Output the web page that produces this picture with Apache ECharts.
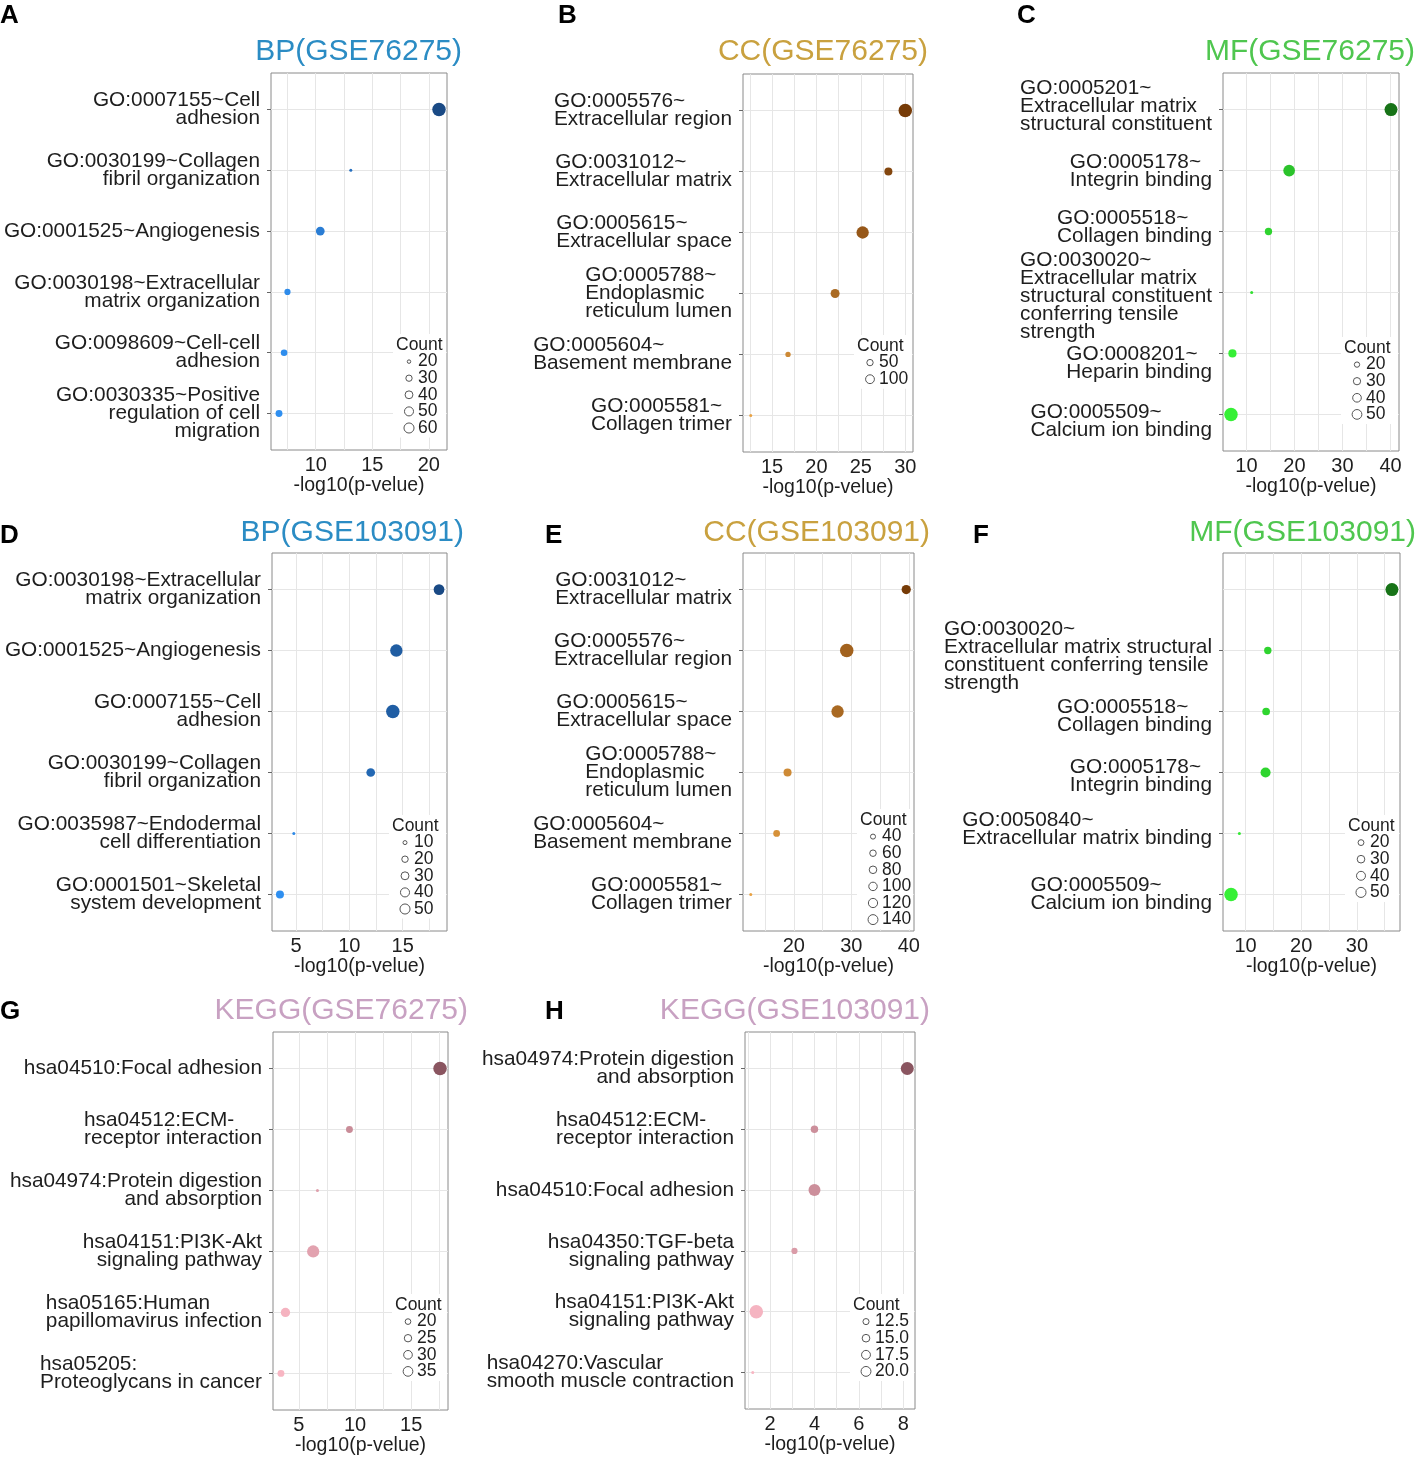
<!DOCTYPE html>
<html>
<head>
<meta charset="utf-8">
<script src="https://cdn.jsdelivr.net/npm/echarts@6.0.0/dist/echarts.min.js"></script>
<style>
html, body { margin: 0; padding: 0; background: #fff; }
#chart { width: 1418px; height: 1459px; }
</style>
</head>
<body>
<div id="chart"></div>
<script>
// ---- data ----
var bp76Terms = ['GO:0007155~Cell\nadhesion', 'GO:0030199~Collagen\nfibril organization', 'GO:0001525~Angiogenesis',
    'GO:0030198~Extracellular\nmatrix organization', 'GO:0098609~Cell-cell\nadhesion', 'GO:0030335~Positive\nregulation of cell\nmigration'];
var bp76LogP = [20.9, 13.1, 10.4, 7.5, 7.2, 6.75];
var bp76Count = [62, 19, 32, 23, 24, 25];
var bp76Breaks = [20, 30, 40, 50, 60];
var bp76Ticks = [10, 15, 20];

var cc76Terms = ['GO:0005576~\nExtracellular region', 'GO:0031012~\nExtracellular matrix', 'GO:0005615~\nExtracellular space',
    'GO:0005788~\nEndoplasmic\nreticulum lumen', 'GO:0005604~\nBasement membrane', 'GO:0005581~\nCollagen trimer'];
var cc76LogP = [30.0, 28.1, 25.2, 22.1, 16.8, 12.6];
var cc76Count = [140, 46, 114, 58, 24, 18];
var cc76Breaks = [50, 100];
var cc76Ticks = [15, 20, 25, 30];

var mf76Terms = ['GO:0005201~\nExtracellular matrix\nstructural constituent', 'GO:0005178~\nIntegrin binding', 'GO:0005518~\nCollagen binding',
    'GO:0030020~\nExtracellular matrix\nstructural constituent\nconferring tensile\nstrength', 'GO:0008201~\nHeparin binding', 'GO:0005509~\nCalcium ion binding'];
var mf76LogP = [40.1, 18.9, 14.6, 11.1, 7.1, 6.8];
var mf76Count = [51, 42, 21, 14, 24, 55];
var mf76Breaks = [20, 30, 40, 50];
var mf76Ticks = [10, 20, 30, 40];

var bp103Terms = ['GO:0030198~Extracellular\nmatrix organization', 'GO:0001525~Angiogenesis', 'GO:0007155~Cell\nadhesion',
    'GO:0030199~Collagen\nfibril organization', 'GO:0035987~Endodermal\ncell differentiation', 'GO:0001501~Skeletal\nsystem development'];
var bp103LogP = [18.4, 14.4, 14.07, 12.0, 4.8, 3.5];
var bp103Count = [32, 43, 52, 21, 8, 18];
var bp103Breaks = [10, 20, 30, 40, 50];
var bp103Ticks = [5, 10, 15];

var cc103Terms = ['GO:0031012~\nExtracellular matrix', 'GO:0005576~\nExtracellular region', 'GO:0005615~\nExtracellular space',
    'GO:0005788~\nEndoplasmic\nreticulum lumen', 'GO:0005604~\nBasement membrane', 'GO:0005581~\nCollagen trimer'];
var cc103LogP = [39.55, 29.2, 27.6, 18.9, 17.0, 12.5];
var cc103Count = [70, 150, 124, 54, 41, 25];
var cc103Breaks = [40, 60, 80, 100, 120, 140];
var cc103Ticks = [20, 30, 40];

var mf103Terms = ['GO:0005201~\nExtracellular matrix\nstructural constituent', 'GO:0030020~\nExtracellular matrix structural\nconstituent conferring tensile\nstrength',
    'GO:0005518~\nCollagen binding', 'GO:0005178~\nIntegrin binding', 'GO:0050840~\nExtracellular matrix binding', 'GO:0005509~\nCalcium ion binding'];
var mf103LogP = [36.3, 14.0, 13.7, 13.6, 8.9, 7.4];
var mf103Count = [48, 19, 20, 30, 12, 52];
var mf103Breaks = [20, 30, 40, 50];
var mf103Ticks = [10, 20, 30];

var kegg76Terms = ['hsa04510:Focal adhesion', 'hsa04512:ECM-\nreceptor interaction', 'hsa04974:Protein digestion\nand absorption',
    'hsa04151:PI3K-Akt\nsignaling pathway', 'hsa05165:Human\npapillomavirus infection', 'hsa05205:\nProteoglycans in cancer'];
var kegg76LogP = [17.57, 9.5, 6.65, 6.27, 3.8, 3.4];
var kegg76Count = [38, 19, 16, 33, 24, 19];
var kegg76Breaks = [20, 25, 30, 35];
var kegg76Ticks = [5, 10, 15];

var kegg103Terms = ['hsa04974:Protein digestion\nand absorption', 'hsa04512:ECM-\nreceptor interaction', 'hsa04510:Focal adhesion',
    'hsa04350:TGF-beta\nsignaling pathway', 'hsa04151:PI3K-Akt\nsignaling pathway', 'hsa04270:Vascular\nsmooth muscle contraction'];
var kegg103LogP = [8.18, 4.0, 4.0, 3.1, 1.38, 1.22];
var kegg103Count = [20, 12, 18, 11, 21, 10];
var kegg103Breaks = [12.5, 15, 17.5, 20];
var kegg103Ticks = [2, 4, 6, 8];

// ---- layout / style per panel ----
var FONT = '"Liberation Sans", Arial, sans-serif';
var BLUE = ['#2f8ff0', '#1a4a85'], BROWN = ['#e9a243', '#763b07'], GREEN = ['#36f036', '#177317'], PINK = ['#f8b6c3', '#8a5560'];

// vertical nudges (px) of the y labels, as placed in the figure
var mf76Nudge = [-3, 1, -4, 4, 10, 7];
var mf103Nudge = [0, 6, 5, 4, -4, 0];

var panels = [
    { letter: 'A', lx: 0, ly: 16, title: 'BP(GSE76275)', tColor: '#2b8cc4', tRight: 462, tY: 51, grid: [271, 73, 176, 377],
      terms: bp76Terms, logp: bp76LogP, count: bp76Count, breaks: bp76Breaks, ticks: bp76Ticks, pal: BLUE, legTop: 272, legOff: 38 },
    { letter: 'B', lx: 558, ly: 16, title: 'CC(GSE76275)', tColor: '#c9a13f', tRight: 928, tY: 51, grid: [743, 74, 170, 378],
      terms: cc76Terms, logp: cc76LogP, count: cc76Count, breaks: cc76Breaks, ticks: cc76Ticks, pal: BROWN, legTop: 272, legOff: 43 },
    { letter: 'C', lx: 1017, ly: 16, title: 'MF(GSE76275)', tColor: '#4fc64f', tRight: 1415, tY: 51, grid: [1223, 73, 176, 378],
      terms: mf76Terms, logp: mf76LogP, count: mf76Count, breaks: mf76Breaks, ticks: mf76Ticks, pal: GREEN, legTop: 275, legOff: 42, nudge: mf76Nudge },
    { letter: 'D', lx: 0, ly: 536, title: 'BP(GSE103091)', tColor: '#2b8cc4', tRight: 464, tY: 532, grid: [272, 553, 175, 378],
      terms: bp103Terms, logp: bp103LogP, count: bp103Count, breaks: bp103Breaks, ticks: bp103Ticks, pal: BLUE, legTop: 273, legOff: 42 },
    { letter: 'E', lx: 545, ly: 536, title: 'CC(GSE103091)', tColor: '#c9a13f', tRight: 930, tY: 532, grid: [743, 553, 171, 378],
      terms: cc103Terms, logp: cc103LogP, count: cc103Count, breaks: cc103Breaks, ticks: cc103Ticks, pal: BROWN, legTop: 267, legOff: 41 },
    { letter: 'F', lx: 973, ly: 536, title: 'MF(GSE103091)', tColor: '#4fc64f', tRight: 1416, tY: 532, grid: [1223, 553, 177, 378],
      terms: mf103Terms, logp: mf103LogP, count: mf103Count, breaks: mf103Breaks, ticks: mf103Ticks, pal: GREEN, legTop: 273, legOff: 39, nudge: mf103Nudge },
    { letter: 'G', lx: 0, ly: 1012, title: 'KEGG(GSE76275)', tColor: '#c8a1c2', tRight: 468, tY: 1010, grid: [273, 1032, 175, 378],
      terms: kegg76Terms, logp: kegg76LogP, count: kegg76Count, breaks: kegg76Breaks, ticks: kegg76Ticks, pal: PINK, legTop: 273, legOff: 40 },
    { letter: 'H', lx: 545, ly: 1012, title: 'KEGG(GSE103091)', tColor: '#c8a1c2', tRight: 930, tY: 1010, grid: [745, 1032, 170, 377],
      terms: kegg103Terms, logp: kegg103LogP, count: kegg103Count, breaks: kegg103Breaks, ticks: kegg103Ticks, pal: PINK, legTop: 273, legOff: 49 }
];

var labelStyle = { fontSize: 20.8, lineHeight: 18, fontFamily: FONT, color: '#1e1e1e' };
var rich = {
    l: Object.assign({ align: 'left' }, labelStyle),
    r: Object.assign({ align: 'right' }, labelStyle)
};

// left-align lines inside a wrapped label when its first line is only the id;
// a nudge is done with an empty spacer line above (down) or below (up)
function fmtTerm(s, nudge) {
    var lines = s.split('\n');
    var left = lines.length > 1 && (/[~:]$/.test(lines[0]) || lines[0].length < lines[1].length);
    var tag = left ? 'l' : 'r';
    var out = lines.map(function (l) { return '{' + tag + '|' + l + '}'; }).join('\n');
    if (nudge) {
        var key = 'g' + Math.abs(nudge);
        rich[key] = { fontSize: 1, lineHeight: 2 * Math.abs(nudge) };
        out = nudge > 0 ? '{' + key + '| }\n' + out : out + '\n{' + key + '| }';
    }
    return out;
}

function sizeScale(counts) {
    var lo = Math.min.apply(null, counts), hi = Math.max.apply(null, counts);
    return function (c) {
        var t = Math.max(0, Math.min(1, (c - lo) / (hi - lo)));
        return 3 + 10.5 * Math.sqrt(t);
    };
}

var option = { animation: false, title: [], grid: [], xAxis: [], yAxis: [], series: [], visualMap: [], graphic: [] };

panels.forEach(function (p, i) {
    var g = p.grid;
    var size = sizeScale(p.count);
    var lo = Math.min.apply(null, p.logp), hi = Math.max.apply(null, p.logp);
    var pad = (hi - lo) * 0.05;
    var step = p.ticks[1] - p.ticks[0];
    var gridVals = p.ticks.map(function (t) { return t - step / 2; }).concat(p.ticks)
        .concat([p.ticks[p.ticks.length - 1] + step / 2]).sort(function (a, b) { return a - b; });
    var idx = p.terms.map(function (t, j) { return j; });
    var labels = p.terms.map(function (t, j) { return fmtTerm(t, p.nudge ? p.nudge[j] : 0); });

    option.title.push({ text: p.letter, left: p.lx, top: p.ly - 13, padding: 0,
        textStyle: { fontSize: 26, fontWeight: 'bold', color: '#000', fontFamily: FONT } });
    option.title.push({ text: p.title, right: 1418 - p.tRight, top: p.tY - 14, padding: 0,
        textStyle: { fontSize: 30, fontWeight: 'normal', color: p.tColor, fontFamily: FONT } });

    option.grid.push({ left: g[0], top: g[1], width: g[2], height: g[3], show: true,
        borderColor: '#8a8a8a', borderWidth: 1, backgroundColor: 'transparent' });

    option.xAxis.push({
        type: 'value', gridIndex: i, min: lo - pad, max: hi + pad,
        name: '-log10(p-velue)', nameLocation: 'middle', nameGap: 25,
        nameTextStyle: { fontSize: 19.5, color: '#1e1e1e', fontFamily: FONT },
        axisLine: { show: false },
        axisTick: { show: false, customValues: gridVals },
        axisLabel: { customValues: p.ticks, margin: 5, fontSize: 20, color: '#1e1e1e', fontFamily: FONT },
        splitLine: { show: true, lineStyle: { color: '#e6e6e6', width: 1 } }
    });
    option.yAxis.push({
        type: 'value', gridIndex: i, inverse: true, min: -0.6, max: p.terms.length - 0.4,
        axisLine: { show: false },
        axisTick: { show: true, length: 4, customValues: idx, lineStyle: { color: '#666' } },
        axisLabel: {
            customValues: idx, margin: 11, align: 'right', fontSize: 20.8, lineHeight: 18,
            fontFamily: FONT, color: '#1e1e1e', rich: rich,
            formatter: function (v) { return labels[Math.round(v)]; }
        },
        splitLine: { show: true, lineStyle: { color: '#e6e6e6', width: 1 } }
    });
    option.series.push({
        type: 'scatter', xAxisIndex: i, yAxisIndex: i, silent: true,
        data: p.logp.map(function (x, j) { return [x, j, p.count[j]]; }),
        symbolSize: function (v) { return size(v[2]); },
        itemStyle: { opacity: 1 }
    });
    option.visualMap.push({ type: 'continuous', show: false, seriesIndex: i, dimension: 0,
        min: lo, max: hi, inRange: { color: p.pal } });

    // size key ("Count") inside the panel, on a white background like the ggplot legend
    var cx = g[0] + g[2] - p.legOff, cy = g[1] + p.legTop, rowH = 16.6;
    var dec = p.breaks.some(function (b) { return b % 1 !== 0; });
    var boxL = cx - 16;
    option.graphic.push({ type: 'rect', z: 90, silent: true,
        shape: { x: boxL, y: cy - 11, width: g[0] + g[2] - 1 - boxL, height: rowH * (p.breaks.length + 1) + 4 },
        style: { fill: '#fff' } });
    option.graphic.push({ type: 'text', z: 100, x: cx - 13, y: cy, silent: true,
        style: { text: 'Count', fontSize: 17.5, fontFamily: FONT, fill: '#1e1e1e', verticalAlign: 'middle', align: 'left' } });
    p.breaks.forEach(function (b, k) {
        var y = cy + rowH * (k + 1);
        option.graphic.push({ type: 'circle', z: 100, silent: true, shape: { cx: cx, cy: y, r: size(b) * 0.38 },
            style: { fill: 'none', stroke: '#555', lineWidth: 1 } });
        option.graphic.push({ type: 'text', z: 100, x: cx + 9, y: y, silent: true,
            style: { text: dec ? b.toFixed(1) : String(b), fontSize: 17.5, fontFamily: FONT, fill: '#1e1e1e',
                verticalAlign: 'middle', align: 'left' } });
    });
});

echarts.init(document.getElementById('chart')).setOption(option);
</script>
</body>
</html>
